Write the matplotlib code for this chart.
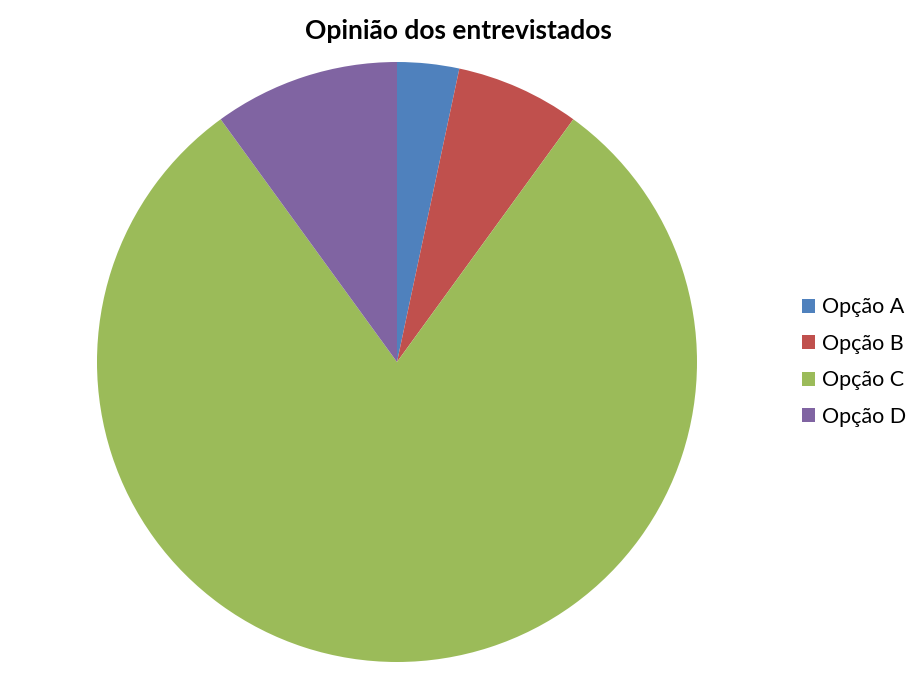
import matplotlib
matplotlib.use("Agg")
import matplotlib.pyplot as plt

labels = ["Opção A", "Opção B", "Opção C", "Opção D"]
values = [1, 2, 24, 3]
colors = ["#4F81BD", "#C0504D", "#9BBB59", "#8064A2"]

plt.rcParams['font.family'] = ['Lato', 'DejaVu Sans']

W, H = 918, 678
fig = plt.figure(figsize=(W / 100, H / 100), dpi=100)

# pie centre ~ (397, 362), radius ~ 300 px
cx, cy, r = 397, 362, 300
ax = fig.add_axes([(cx - r) / W, (H - cy - r) / H, 2 * r / W, 2 * r / H])
wedges, _ = ax.pie(values, colors=colors, startangle=90, counterclock=False,
                   radius=1, wedgeprops=dict(linewidth=0))
ax.set_xlim(-1, 1)
ax.set_ylim(-1, 1)
ax.set_aspect("equal")
ax.axis("off")

fig.text(458 / W, 1 - 31 / H, "Opinião dos entrevistados", ha="center", va="center",
         fontsize=19, fontweight="bold")

fig.legend(wedges, labels, loc="center left", bbox_to_anchor=(791 / W, 1 - 362 / H),
           frameon=False, fontsize=15.5, handlelength=0.62, handleheight=0.62,
           handletextpad=0.3, labelspacing=0.76, borderpad=0)

fig.savefig("out.png", dpi=100)
